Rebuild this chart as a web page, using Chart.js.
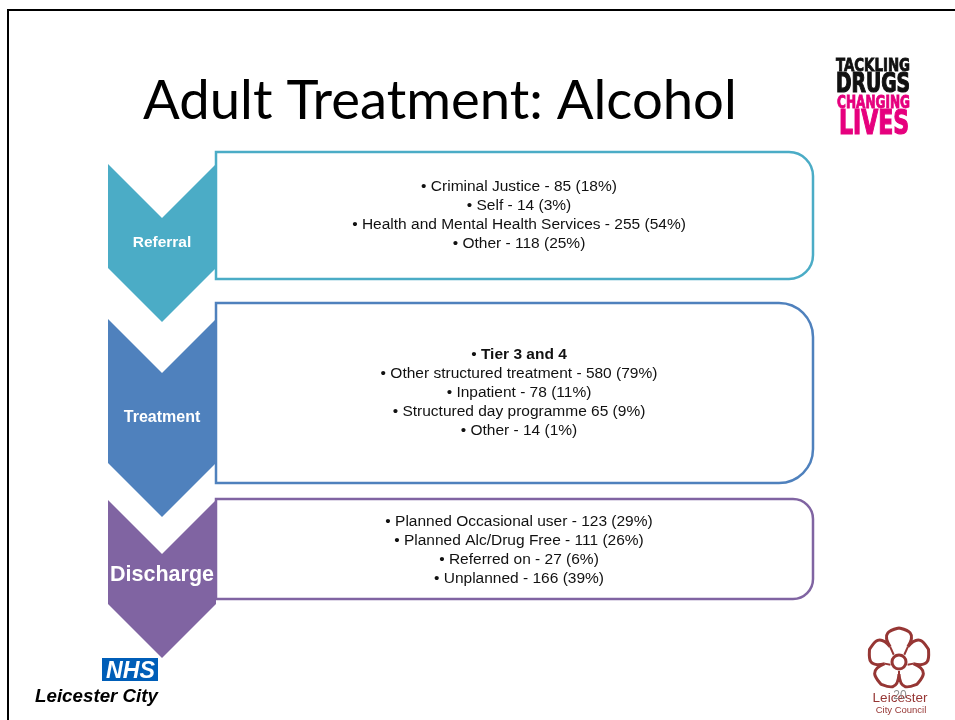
<!DOCTYPE html>
<html>
<head>
<meta charset="utf-8">
<script src="https://cdn.jsdelivr.net/npm/chart.js@4.4.0/dist/chart.umd.min.js"></script>
<style>
  html, body { margin: 0; padding: 0; background: #fff; overflow: hidden; }
  canvas { display: block; }
</style>
</head>
<body>
<canvas id="slide" width="955" height="720"></canvas>
<script>
// slide content
const title = 'Adult Treatment: Alcohol';
const stages = ['Referral', 'Treatment', 'Discharge'];
const stageColors = ['#4BACC6', '#4F81BD', '#8064A2'];

const referralLabels = ['Criminal Justice', 'Self', 'Health and Mental Health Services', 'Other'];
const referralCounts = [85, 14, 255, 118];
const referralPcts = [18, 3, 54, 25];

const treatmentHeading = 'Tier 3 and 4';
const treatmentLabels = ['Other structured treatment', 'Inpatient', 'Structured day programme', 'Other'];
const treatmentSeps = [' - ', ' - ', ' ', ' - '];
const treatmentCounts = [580, 78, 65, 14];
const treatmentPcts = [79, 11, 9, 1];

const dischargeLabels = ['Planned Occasional user', 'Planned Alc/Drug Free', 'Referred on', 'Unplanned'];
const dischargeCounts = [123, 111, 27, 166];
const dischargePcts = [29, 26, 6, 39];

const pageNumber = '20';

// layout (slide coordinates, px)
const layout = [
  { box: [216, 152, 813, 279], r: 24, chev: [108, 164, 216, 268], firstLine: 186, labelY: 243, labelSize: 15.5 },
  { box: [216, 303, 813, 483], r: 34, chev: [108, 319, 216, 463], firstLine: 354, labelY: 418, labelSize: 16 },
  { box: [216, 499, 813, 599], r: 20, chev: [108, 500, 216, 604], firstLine: 521, labelY: 575, labelSize: 21.5 }
];
const lineGap = 19;
const textCx = 519;
const bodySize = 15.5;

function fmt(label, count, pct, sep) {
  return label + (sep || ' - ') + count + ' (' + pct + '%)';
}

const stageLines = [
  referralLabels.map((l, i) => ({ text: fmt(l, referralCounts[i], referralPcts[i]) })),
  [{ text: treatmentHeading, bold: true }].concat(
    treatmentLabels.map((l, i) => ({ text: fmt(l, treatmentCounts[i], treatmentPcts[i], treatmentSeps[i]) }))),
  dischargeLabels.map((l, i) => ({ text: fmt(l, dischargeCounts[i], dischargePcts[i]) }))
];

const SANS = '"Liberation Sans", Arial, sans-serif';

function stretchText(ctx, text, x0, x1, baseline, size, font, color, heavy) {
  ctx.font = font.replace('SIZE', size + 'px');
  const w = ctx.measureText(text).width;
  ctx.save();
  ctx.fillStyle = color;
  ctx.textAlign = 'left';
  ctx.textBaseline = 'alphabetic';
  ctx.translate(x0, baseline);
  ctx.scale((x1 - x0) / w, 1);
  ctx.fillText(text, 0, 0);
  if (heavy) {
    ctx.strokeStyle = color;
    ctx.lineWidth = heavy;
    ctx.lineJoin = 'miter';
    ctx.strokeText(text, 0, 0);
  }
  ctx.restore();
}

const slidePlugin = {
  id: 'slide',
  afterDraw(chart) {
    const ctx = chart.ctx;
    const xs = chart.scales.x, ys = chart.scales.y;
    const X = v => xs.getPixelForValue(v);
    const Y = v => ys.getPixelForValue(v);

    ctx.save();
    // frame
    ctx.strokeStyle = '#000';
    ctx.lineWidth = 2;
    ctx.beginPath();
    ctx.moveTo(X(955), Y(10));
    ctx.lineTo(X(8), Y(10));
    ctx.lineTo(X(8), Y(720));
    ctx.stroke();

    // title
    ctx.font = '52px Lato, "Open Sans", sans-serif';
    const tw = ctx.measureText(title).width;
    const tsize = 52 * 594 / tw;
    ctx.font = tsize + 'px Lato, "Open Sans", sans-serif';
    ctx.fillStyle = '#000';
    ctx.textAlign = 'left';
    ctx.textBaseline = 'alphabetic';
    ctx.fillText(title, X(143), Y(119));

    // chevrons
    layout.forEach((L, i) => {
      const [x0, y0, x1, y1] = L.chev;
      const xm = (x0 + x1) / 2, d = (x1 - x0) / 2;
      ctx.fillStyle = stageColors[i];
      ctx.beginPath();
      ctx.moveTo(X(x0), Y(y0));
      ctx.lineTo(X(xm), Y(y0 + d));
      ctx.lineTo(X(x1), Y(y0));
      ctx.lineTo(X(x1), Y(y1));
      ctx.lineTo(X(xm), Y(y1 + d));
      ctx.lineTo(X(x0), Y(y1));
      ctx.closePath();
      ctx.fill();

      ctx.fillStyle = '#fff';
      ctx.font = 'bold ' + L.labelSize + 'px ' + SANS;
      ctx.textAlign = 'center';
      ctx.textBaseline = 'middle';
      ctx.fillText(stages[i], X(xm), Y(L.labelY));
    });

    // boxes
    layout.forEach((L, i) => {
      const [bx0, by0, bx1, by1] = L.box;
      const r = L.r;
      ctx.beginPath();
      ctx.moveTo(X(bx0), Y(by0));
      ctx.lineTo(X(bx1 - r), Y(by0));
      ctx.arcTo(X(bx1), Y(by0), X(bx1), Y(by0 + r), r);
      ctx.lineTo(X(bx1), Y(by1 - r));
      ctx.arcTo(X(bx1), Y(by1), X(bx1 - r), Y(by1), r);
      ctx.lineTo(X(bx0), Y(by1));
      ctx.closePath();
      ctx.fillStyle = '#fff';
      ctx.fill();
      ctx.strokeStyle = stageColors[i];
      ctx.lineWidth = 2.5;
      ctx.stroke();

      ctx.fillStyle = '#111';
      ctx.textBaseline = 'middle';
      ctx.textAlign = 'left';
      stageLines[i].forEach((ln, k) => {
        const y = Y(L.firstLine + 1 + k * lineGap);
        const bullet = '\u2022 ';
        ctx.font = bodySize + 'px ' + SANS;
        const bw = ctx.measureText(bullet).width;
        ctx.font = (ln.bold ? 'bold ' : '') + bodySize + 'px ' + SANS;
        const w = ctx.measureText(ln.text).width;
        const start = X(textCx) - (bw + w) / 2;
        ctx.font = bodySize + 'px ' + SANS;
        ctx.fillText(bullet, start, y);
        ctx.font = (ln.bold ? 'bold ' : '') + bodySize + 'px ' + SANS;
        ctx.fillText(ln.text, start + bw, y);
      });
    });

    // Tackling Drugs Changing Lives logo
    const cond = 'bold SIZE "DejaVu Sans Condensed", "Liberation Sans Narrow", sans-serif';
    stretchText(ctx, 'TACKLING', X(836), X(910), Y(71), 18, cond, '#111', 0.8);
    stretchText(ctx, 'DRUGS', X(836), X(910), Y(92), 27, cond, '#111', 1.2);
    stretchText(ctx, 'CHANGING', X(837), X(910), Y(108), 17, cond, '#E6007E', 0.8);
    stretchText(ctx, 'LIVES', X(839), X(909), Y(134), 33, cond, '#E6007E', 1.2);

    // NHS logo
    ctx.fillStyle = '#005EB8';
    ctx.fillRect(X(102), Y(658), X(158) - X(102), Y(681) - Y(658));
    stretchText(ctx, 'NHS', X(106), X(155), Y(678), 23, 'italic bold SIZE ' + SANS, '#fff');
    stretchText(ctx, 'Leicester City', X(35), X(158), Y(702), 19, 'italic bold SIZE ' + SANS, '#000');

    // Leicester City Council logo
    const red = '#963634';
    const cx = X(899), cy = Y(659);
    ctx.strokeStyle = red;
    ctx.lineWidth = 3;
    ctx.beginPath();
    for (let p = 0; p < 5; p++) {
      const th = (-90 + 72 * p) * Math.PI / 180;
      const a0 = th - 36 * Math.PI / 180, a1 = th + 36 * Math.PI / 180;
      const pt = (a, rr) => [cx + rr * Math.cos(a), cy + rr * Math.sin(a)];
      const s = pt(a0, 15), t = pt(th, 31), e = pt(a1, 15);
      const c1 = pt(th - 34 * Math.PI / 180, 33), c2 = pt(th - 14 * Math.PI / 180, 30);
      const c3 = pt(th + 14 * Math.PI / 180, 30), c4 = pt(th + 34 * Math.PI / 180, 33);
      if (p === 0) ctx.moveTo(s[0], s[1]);
      ctx.bezierCurveTo(c1[0], c1[1], c2[0], c2[1], t[0], t[1]);
      ctx.bezierCurveTo(c3[0], c3[1], c4[0], c4[1], e[0], e[1]);
    }
    ctx.closePath();
    ctx.stroke();
    ctx.beginPath();
    ctx.arc(cx, cy + 3, 7, 0, Math.PI * 2);
    ctx.stroke();
    ctx.lineWidth = 2;
    for (let p = 0; p < 5; p++) {
      const th = (-90 + 72 * p + 36) * Math.PI / 180;
      ctx.beginPath();
      ctx.moveTo(cx + 9 * Math.cos(th), cy + 3 + 9 * Math.sin(th));
      ctx.lineTo(cx + 15 * Math.cos(th), cy + 15 * Math.sin(th));
      ctx.stroke();
    }
    ctx.fillStyle = red;
    ctx.font = '13.5px ' + SANS;
    ctx.textAlign = 'center';
    ctx.textBaseline = 'alphabetic';
    ctx.fillText('Leicester', X(900), Y(702));
    ctx.font = '9.5px ' + SANS;
    ctx.fillText('City Council', X(901), Y(713));

    // page number
    ctx.fillStyle = '#8c8c8c';
    ctx.font = '12px ' + SANS;
    ctx.fillText(pageNumber, X(900), Y(699));
    ctx.restore();
  }
};

new Chart(document.getElementById('slide'), {
  type: 'scatter',
  data: { datasets: [] },
  options: {
    responsive: false,
    animation: false,
    devicePixelRatio: 1,
    layout: { padding: 0 },
    plugins: { legend: { display: false }, tooltip: { enabled: false } },
    scales: {
      x: { type: 'linear', display: false, min: 0, max: 955 },
      y: { type: 'linear', display: false, min: 0, max: 720, reverse: true }
    }
  },
  plugins: [slidePlugin]
});
</script>
</body>
</html>
